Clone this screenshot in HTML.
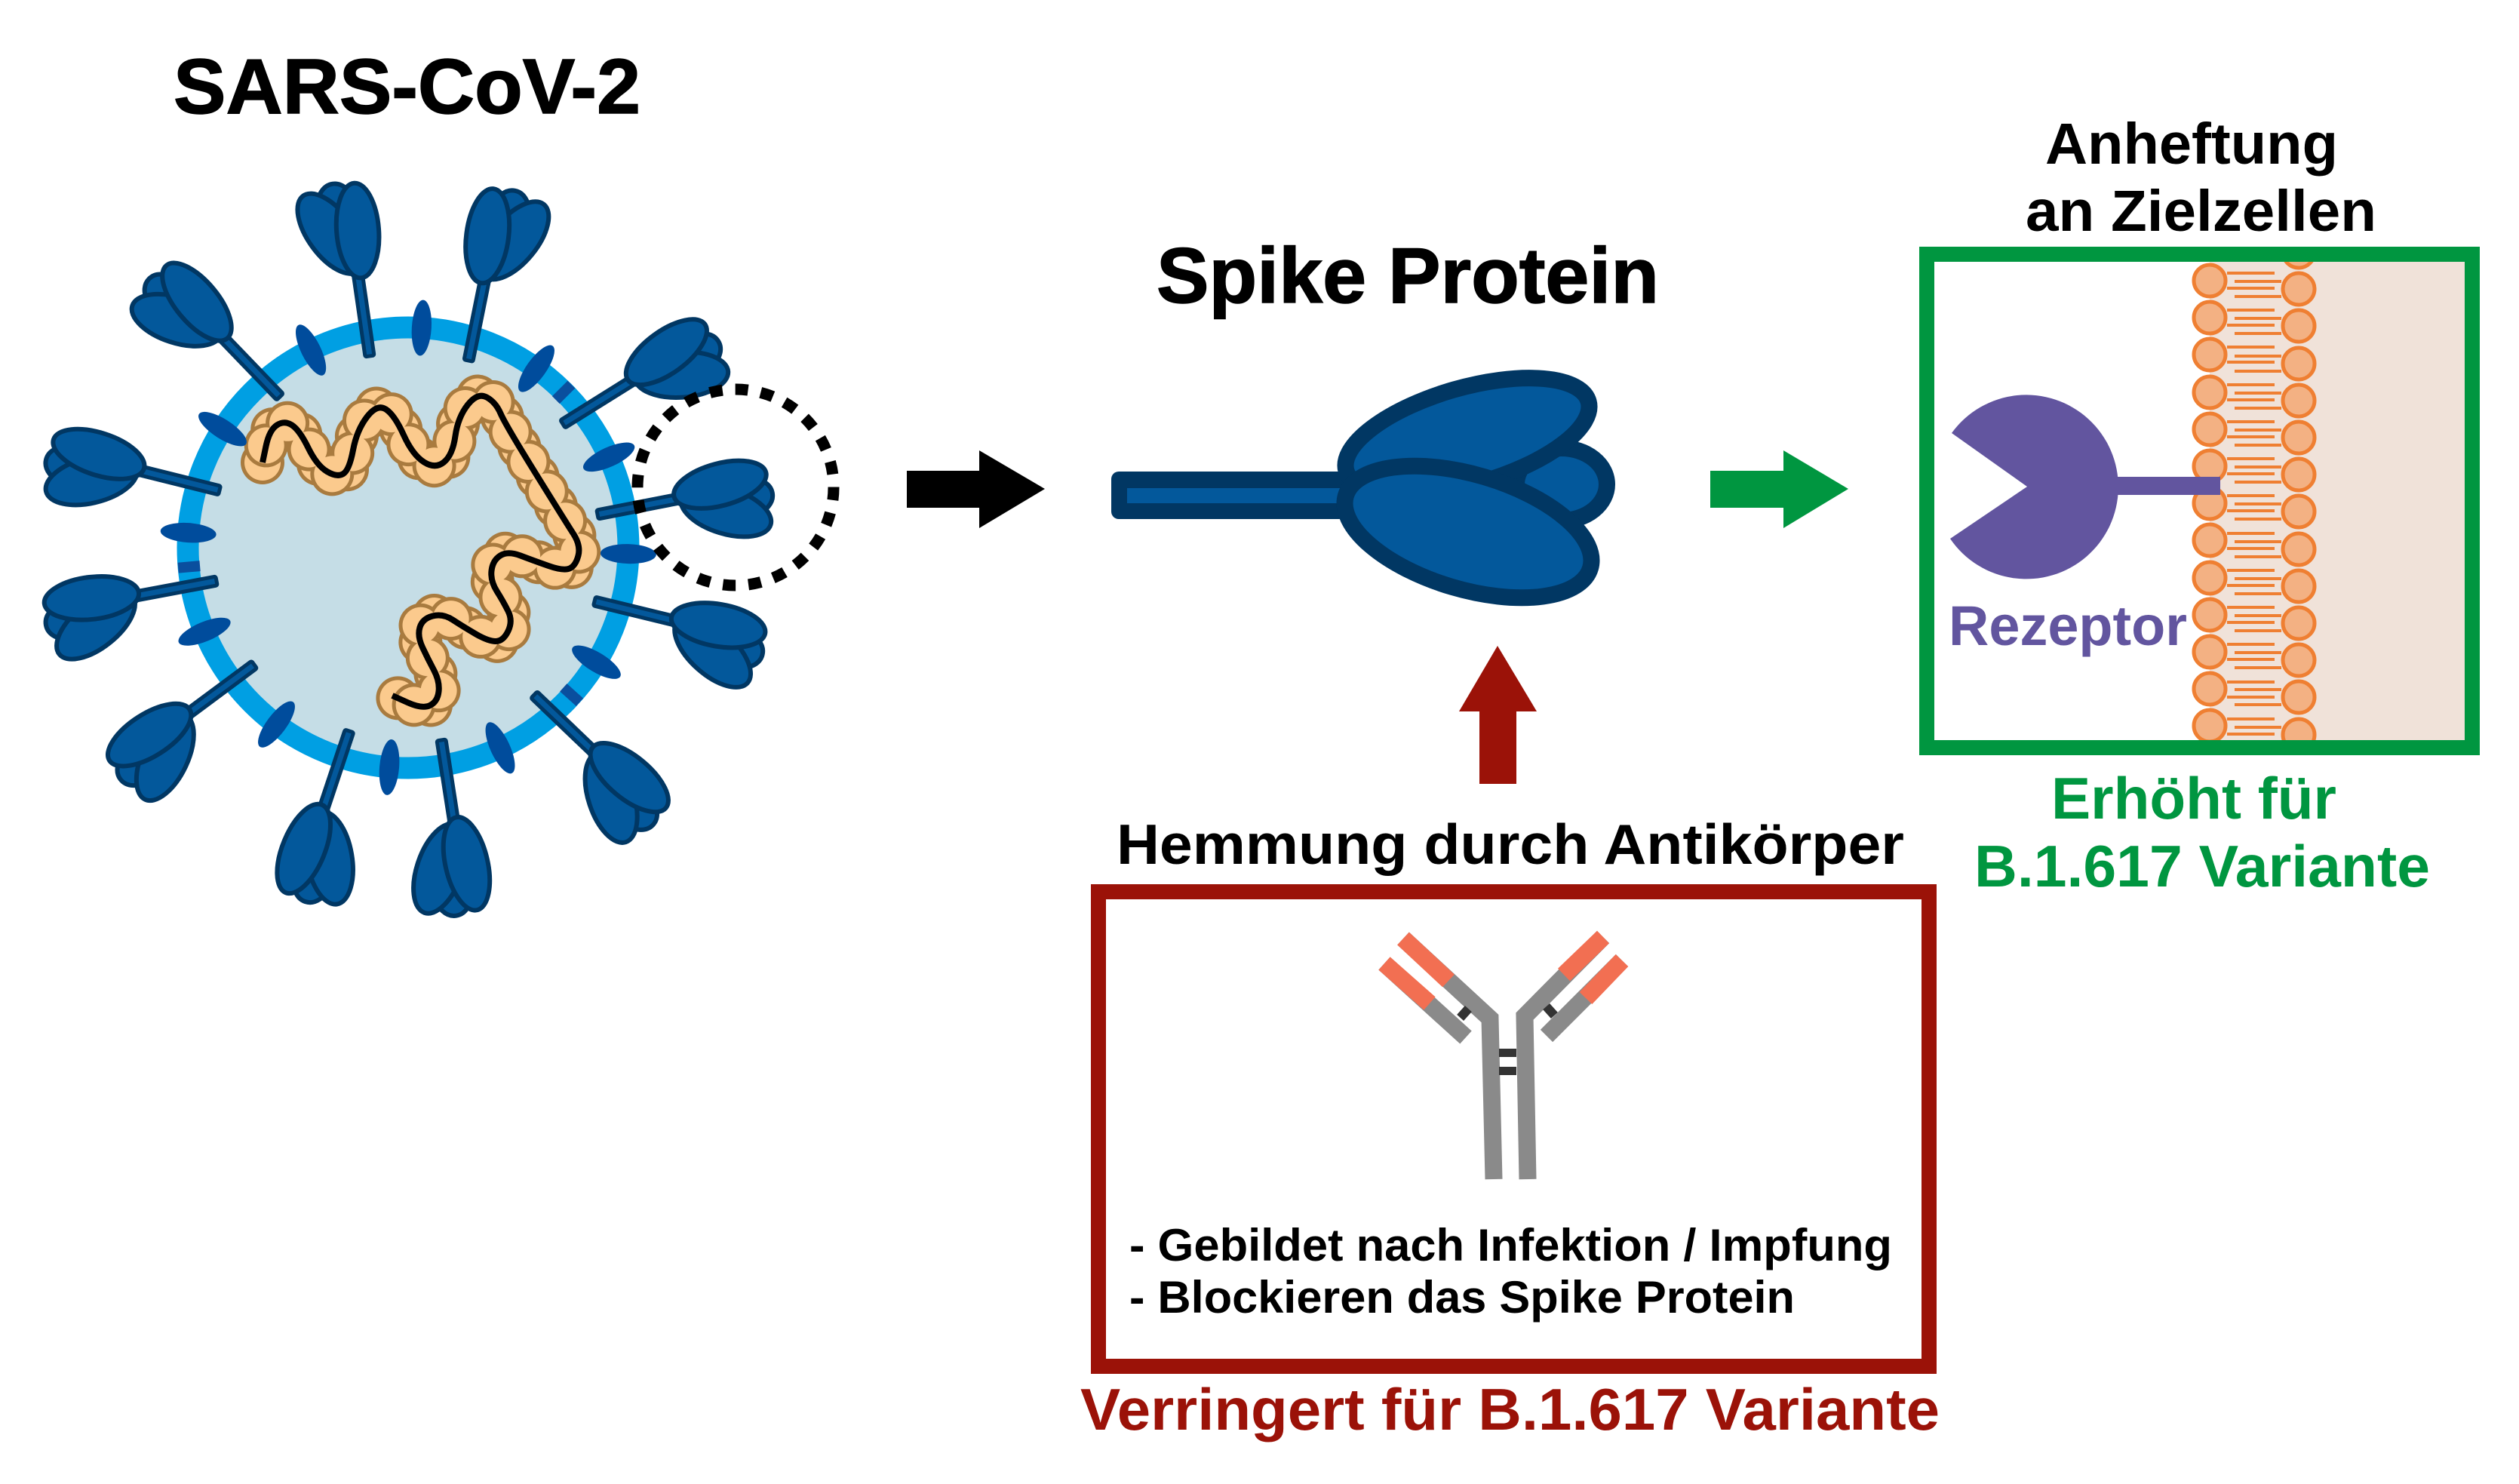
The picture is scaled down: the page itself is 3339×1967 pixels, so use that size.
<!DOCTYPE html>
<html>
<head>
<meta charset="utf-8">
<style>
html,body{margin:0;padding:0;background:#fff;}
svg{display:block;}
</style>
</head>
<body>
<svg width="3339" height="1967" viewBox="0 0 3339 1967" xmlns="http://www.w3.org/2000/svg" font-family="'Liberation Sans', Arial, sans-serif" font-weight="bold">
<defs>
  <g id="spk" stroke="#013763" stroke-width="6" fill="#03589b">
    <rect x="-6" y="-110" width="12" height="110" rx="2" stroke-width="5"/>
    <ellipse cx="-16" cy="-203" rx="24" ry="30"/>
    <ellipse cx="-28" cy="-168" rx="30" ry="62" transform="rotate(-28 -28 -168)"/>
    <ellipse cx="8" cy="-167" rx="28" ry="63" transform="rotate(4 8 -167)"/>
  </g>
  <g id="spkm"><use href="#spk" transform="scale(-1,1)"/></g>
  <clipPath id="gclip"><rect x="2564" y="347" width="703" height="644"/></clipPath>
  <path id="rnaPath" fill="none" d="M348,613 L352.5,591.5 Q357,570 367,563.5 Q377,557 387,563.5 Q397,570 408.5,593.5 Q420,617 433.5,625 Q447,633 455,628 Q463,623 468,596.5 Q473,570 486.5,552.5 Q500,535 511.5,542.5 Q523,550 535,576.5 Q547,603 562,612.5 Q577,622 588.5,612.5 Q600,603 603.5,578 Q607,553 620,536.5 Q633,520 645,526.5 Q657,533 663.5,548 Q670,563 710,627.5 Q750,692 760,707.5 Q770,723 766.5,736.5 Q763,750 755,753.5 Q747,757 727,750 Q707,743 690,736.5 Q673,730 663,736.5 Q653,743 651.5,756.5 Q650,770 658.5,783.5 Q667,797 673.5,810 Q680,823 673.5,836.5 Q667,850 657,850 Q647,850 630,840 Q613,830 600,821.5 Q587,813 573.5,816.5 Q560,820 556.5,831.5 Q553,843 560,858 Q567,873 575,888 Q583,903 581.5,916.5 Q580,930 570,935 Q560,940 540,931 L520,922"/>
</defs>

<rect width="3339" height="1967" fill="#fff"/>

<!-- ===== Titles ===== -->
<text x="230" y="150" font-size="103" textLength="619" lengthAdjust="spacingAndGlyphs" fill="#000" stroke="#000" stroke-width="1.5">SARS-CoV-2</text>
<text x="1533" y="401" font-size="104" textLength="666" lengthAdjust="spacingAndGlyphs" fill="#000" stroke="#000" stroke-width="1.5">Spike Protein</text>
<text x="2711" y="217" font-size="77" textLength="388" lengthAdjust="spacingAndGlyphs" fill="#000">Anheftung</text>
<text x="2685" y="306" font-size="77" textLength="465" lengthAdjust="spacingAndGlyphs" fill="#000">an Zielzellen</text>

<!-- ===== Virus ===== -->
<circle cx="541" cy="726" r="292" fill="#c5dde6" stroke="#009fe3" stroke-width="29"/>

<!-- RNA beads -->
<g fill="none" stroke-linecap="round">
  <use href="#rnaPath" stroke="#fbca8d" stroke-width="40"/>
  <use href="#rnaPath" stroke="#a97b3f" stroke-width="58" stroke-dasharray="0 46"/>
  <use href="#rnaPath" stroke="#fbca8d" stroke-width="48" stroke-dasharray="0 46"/>
  <use href="#rnaPath" stroke="#a97b3f" stroke-width="58" stroke-dasharray="0 46" stroke-dashoffset="-23"/>
  <use href="#rnaPath" stroke="#fbca8d" stroke-width="48" stroke-dasharray="0 46" stroke-dashoffset="-23"/>
</g>
<use href="#rnaPath" stroke="#000" stroke-width="8" fill="none" stroke-linecap="butt"/>

<!-- membrane proteins -->
<g fill="#004c9c">
  <ellipse cx="0" cy="-292" rx="13" ry="37" transform="translate(541,726) rotate(-26.2)"/>
  <ellipse cx="0" cy="-292" rx="13" ry="37" transform="translate(541,726) rotate(3.5)"/>
  <ellipse cx="0" cy="-292" rx="13" ry="37" transform="translate(541,726) rotate(35.6)"/>
  <ellipse cx="0" cy="-292" rx="13" ry="37" transform="translate(541,726) rotate(-57.4)"/>
  <ellipse cx="0" cy="-292" rx="13" ry="37" transform="translate(541,726) rotate(65.7)"/>
  <ellipse cx="0" cy="-292" rx="13" ry="37" transform="translate(541,726) rotate(-86.1)"/>
  <ellipse cx="0" cy="-292" rx="13" ry="37" transform="translate(541,726) rotate(91.6)"/>
  <ellipse cx="0" cy="-292" rx="13" ry="37" transform="translate(541,726) rotate(-112.4)"/>
  <ellipse cx="0" cy="-292" rx="13" ry="37" transform="translate(541,726) rotate(121.3)"/>
  <ellipse cx="0" cy="-292" rx="13" ry="37" transform="translate(541,726) rotate(-143.3)"/>
  <ellipse cx="0" cy="-292" rx="13" ry="37" transform="translate(541,726) rotate(-175.1)"/>
  <ellipse cx="0" cy="-292" rx="13" ry="37" transform="translate(541,726) rotate(155.3)"/>
</g>
<g fill="#0a4f9e">
  <rect x="-7" y="-306" width="14" height="29" transform="translate(541,726) rotate(45)"/>
  <rect x="-7" y="-306" width="14" height="29" transform="translate(541,726) rotate(-95)"/>
  <rect x="-7" y="-306" width="14" height="29" transform="translate(541,726) rotate(132)"/>
</g>

<!-- spikes -->
<use href="#spk" transform="translate(490,472) rotate(-8.2)"/>
<use href="#spkm" transform="translate(621,478) rotate(11.4)"/>
<use href="#spk" transform="translate(371,526) rotate(-43.9)"/>
<use href="#spkm" transform="translate(746,562) rotate(58)"/>
<use href="#spk" transform="translate(291,650) rotate(-76)"/>
<use href="#spkm" transform="translate(792,682) rotate(79)"/>
<use href="#spk" transform="translate(287,770) rotate(-100.6)"/>
<use href="#spkm" transform="translate(788,797) rotate(103.7)"/>
<use href="#spk" transform="translate(337,881) rotate(-126.6)"/>
<use href="#spkm" transform="translate(708,921) rotate(133.7)"/>
<use href="#spk" transform="translate(463,969) rotate(-161.6)"/>
<use href="#spkm" transform="translate(585,981) rotate(171.2)"/>

<!-- dashed circle -->
<circle cx="975" cy="646" r="130" fill="none" stroke="#000" stroke-width="15" stroke-dasharray="17 17"/>

<!-- ===== Arrows ===== -->
<polygon points="1202,624 1298,624 1298,597 1385,648 1298,700 1298,673 1202,673" fill="#000"/>
<polygon points="2267,624 2364,624 2364,597 2450,648 2364,700 2364,673 2267,673" fill="#009640"/>
<polygon points="1961,1039 1961,943 1934,943 1985,856 2037,943 2010,943 2010,1039" fill="#9b1208"/>

<!-- ===== Spike protein (center) ===== -->
<rect x="1473" y="625" width="312" height="63" rx="10" fill="#013763"/>
<rect x="1494" y="647" width="282" height="20" fill="#03589b"/>
<g fill="#03589b" stroke="#013763" stroke-width="22">
  <ellipse cx="2070" cy="642" rx="60" ry="48"/>
  <ellipse cx="1945" cy="578" rx="167" ry="64" transform="rotate(-16 1945 578)"/>
  <ellipse cx="1946" cy="705" rx="169" ry="76" transform="rotate(16.5 1946 705)"/>
</g>

<!-- ===== Green box (attachment) ===== -->
<g clip-path="url(#gclip)">
  <rect x="2929" y="347" width="340" height="644" fill="#f0e2d9"/>
  <g stroke="#ef7f32" stroke-width="4">
    <path d="M2952 362H3015M2952 382H3015M2952 411H3015M2952 431H3015M2952 460H3015M2952 480H3015M2952 510H3015M2952 530H3015M2952 559H3015M2952 579H3015M2952 608H3015M2952 628H3015M2952 657H3015M2952 677H3015M2952 707H3015M2952 727H3015M2952 756H3015M2952 776H3015M2952 805H3015M2952 825H3015M2952 854H3015M2952 874H3015M2952 904H3015M2952 924H3015M2952 953H3015M2952 973H3015"/>
    <path d="M2962 324H3024M2962 344H3024M2962 373H3024M2962 393H3024M2962 422H3024M2962 442H3024M2962 472H3024M2962 492H3024M2962 521H3024M2962 541H3024M2962 570H3024M2962 590H3024M2962 619H3024M2962 639H3024M2962 668H3024M2962 688H3024M2962 718H3024M2962 738H3024M2962 767H3024M2962 787H3024M2962 816H3024M2962 836H3024M2962 865H3024M2962 885H3024M2962 914H3024M2962 934H3024M2962 964H3024M2962 984H3024"/>
    <g fill="#f3b183" stroke-width="5">
      <circle cx="2929" cy="372" r="21"/><circle cx="2929" cy="421" r="21"/><circle cx="2929" cy="470" r="21"/><circle cx="2929" cy="520" r="21"/><circle cx="2929" cy="569" r="21"/><circle cx="2929" cy="618" r="21"/><circle cx="2929" cy="667" r="21"/><circle cx="2929" cy="716" r="21"/><circle cx="2929" cy="766" r="21"/><circle cx="2929" cy="815" r="21"/><circle cx="2929" cy="864" r="21"/><circle cx="2929" cy="913" r="21"/><circle cx="2929" cy="962" r="21"/><circle cx="2929" cy="1011" r="21"/>
      <circle cx="3047" cy="334" r="21"/><circle cx="3047" cy="383" r="21"/><circle cx="3047" cy="432" r="21"/><circle cx="3047" cy="482" r="21"/><circle cx="3047" cy="531" r="21"/><circle cx="3047" cy="580" r="21"/><circle cx="3047" cy="629" r="21"/><circle cx="3047" cy="678" r="21"/><circle cx="3047" cy="728" r="21"/><circle cx="3047" cy="777" r="21"/><circle cx="3047" cy="826" r="21"/><circle cx="3047" cy="875" r="21"/><circle cx="3047" cy="924" r="21"/><circle cx="3047" cy="974" r="21"/>
    </g>
  </g>
  <!-- receptor -->
  <path d="M2687 645 L2587 574 A122 122 0 1 1 2585 714 Z" fill="#62559f"/>
  <rect x="2800" y="632" width="143" height="24" fill="#62559f"/>
</g>
<rect x="2554" y="337" width="723" height="654" fill="none" stroke="#009640" stroke-width="20"/>
<text x="2583" y="855" font-size="74" textLength="316" lengthAdjust="spacingAndGlyphs" fill="#62559f">Rezeptor</text>
<text x="2719" y="1085" font-size="78" textLength="378" lengthAdjust="spacingAndGlyphs" fill="#009640">Erhöht für</text>
<text x="2617" y="1175" font-size="78" textLength="604" lengthAdjust="spacingAndGlyphs" fill="#009640">B.1.617 Variante</text>

<!-- ===== Red box (antibodies) ===== -->
<text x="1480" y="1145" font-size="75" textLength="1044" lengthAdjust="spacingAndGlyphs" fill="#000">Hemmung durch Antikörper</text>
<rect x="1456" y="1182" width="1101" height="629" fill="none" stroke="#9b1208" stroke-width="20"/>

<!-- antibody -->
<g fill="none" stroke-width="23" stroke-linecap="butt" stroke-linejoin="miter">
  <polyline points="1980,1563 1975,1350 1860,1244" stroke="#8a8a8a"/>
  <polyline points="2025,1563 2021,1347 2125,1242" stroke="#8a8a8a"/>
  <line x1="1943" y1="1375" x2="1835" y2="1277" stroke="#8a8a8a"/>
  <line x1="2050" y1="1373" x2="2150" y2="1273" stroke="#8a8a8a"/>
  <line x1="1860" y1="1244" x2="1920" y2="1300" stroke="#f26f52"/>
  <line x1="2125" y1="1242" x2="2073" y2="1292" stroke="#f26f52"/>
  <line x1="1835" y1="1277" x2="1895" y2="1330" stroke="#f26f52"/>
  <line x1="2150" y1="1273" x2="2102" y2="1323" stroke="#f26f52"/>
</g>
<g fill="#333">
  <rect x="-6" y="-8" width="12" height="16" transform="translate(1941,1343) rotate(42)"/>
  <rect x="-6" y="-8" width="12" height="16" transform="translate(2055,1340) rotate(-42)"/>
  <rect x="1987" y="1390" width="23" height="11"/>
  <rect x="1987" y="1414" width="23" height="11"/>
</g>

<text x="1497" y="1671" font-size="60" textLength="1011" lengthAdjust="spacingAndGlyphs" fill="#000">- Gebildet nach Infektion / Impfung</text>
<text x="1497" y="1740" font-size="60" textLength="882" lengthAdjust="spacingAndGlyphs" fill="#000">- Blockieren das Spike Protein</text>
<text x="1432" y="1895" font-size="78" textLength="1139" lengthAdjust="spacingAndGlyphs" fill="#9b1208">Verringert für B.1.617 Variante</text>
</svg>
</body>
</html>
